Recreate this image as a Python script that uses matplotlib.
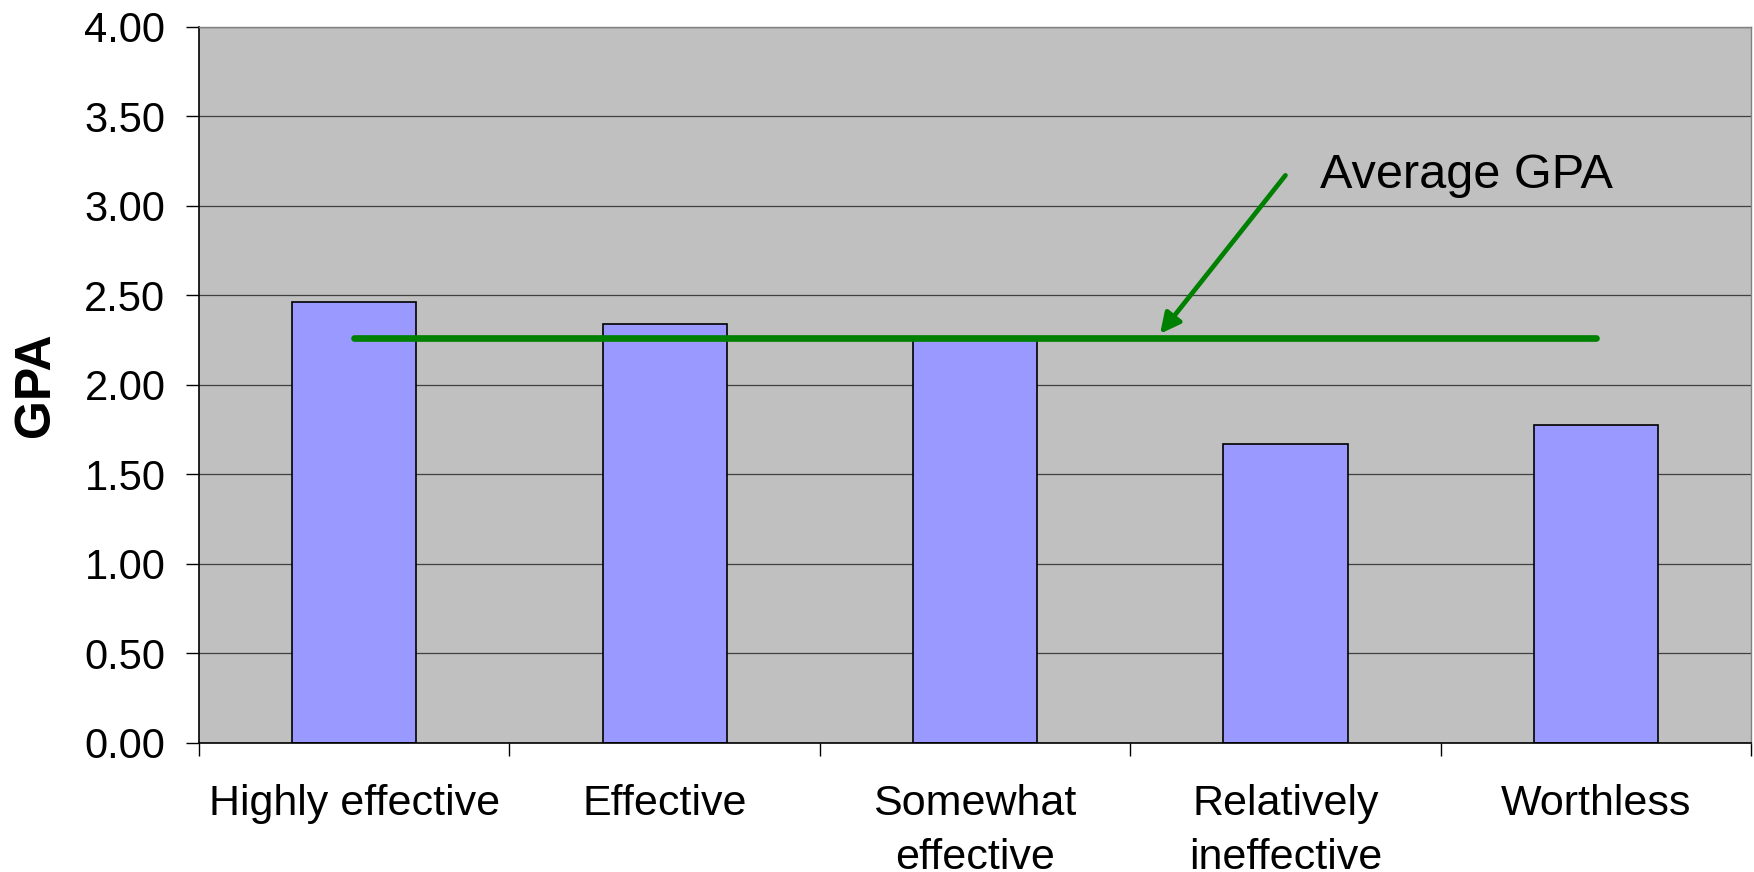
import matplotlib
matplotlib.use("Agg")
import matplotlib.pyplot as plt
import numpy as np

# Mean GPA by how effective students rated the course
categories = ["Highly effective", "Effective", "Somewhat\neffective",
              "Relatively\nineffective", "Worthless"]
gpa = [2.46, 2.34, 2.25, 1.67, 1.775]
average_gpa = 2.26
y_ticks = [0.0, 0.5, 1.0, 1.5, 2.0, 2.5, 3.0, 3.5, 4.0]

plt.rcParams["font.family"] = ["Liberation Sans", "DejaVu Sans"]

fig = plt.figure(figsize=(17.54, 8.72), dpi=100)
ax = fig.add_axes([0.1135, 0.1482, 0.8848, 0.8211])
ax.set_facecolor("#C0C0C0")

x = np.arange(len(categories))
ax.bar(x, gpa, width=0.4, color="#9999FF", edgecolor="black",
       linewidth=1.2, zorder=2)

# Average line spanning first to last category
ax.plot([x[0], x[-1]], [average_gpa, average_gpa], color="#008000",
        linewidth=4.8, solid_capstyle="round", zorder=3)

ax.annotate("", xy=(2.596, average_gpa + 0.025), xytext=(3.0, 3.17),
            arrowprops=dict(arrowstyle="-|>", color="#008000", lw=3.4,
                            mutation_scale=30, shrinkA=0, shrinkB=0),
            zorder=4)
ax.text(3.11, 3.17, "Average GPA", fontsize=35, ha="left", va="center",
        color="black", zorder=4)

ax.set_xlim(-0.5, len(categories) - 0.5)
ax.set_ylim(0, 4.0)
ax.set_yticks(y_ticks)
ax.set_yticklabels([f"{v:.2f}" for v in y_ticks], fontsize=30)
ax.yaxis.grid(True, color="#404040", linewidth=0.9, zorder=1)
ax.set_axisbelow(True)

ax.set_xticks(x)
ax.set_xticklabels(categories, fontsize=31, linespacing=1.45)
ax.set_xticks(np.arange(-0.5, len(categories)), minor=True)
ax.tick_params(axis="x", which="major", length=0, pad=30)
ax.tick_params(axis="x", which="minor", length=9.7, width=1.0,
               color="black", direction="out")
ax.tick_params(axis="y", which="major", length=9.7, width=1.0,
               color="black", direction="out", pad=14.5)

ax.set_ylabel("GPA", fontsize=36, fontweight="bold")
ax.yaxis.set_label_coords(-0.1048, 0.5)
ax.yaxis.label.set_verticalalignment("center")

for side in ("left", "bottom"):
    ax.spines[side].set_color("black")
    ax.spines[side].set_linewidth(1.2)
for side in ("top", "right"):
    ax.spines[side].set_color("#808080")
    ax.spines[side].set_linewidth(1.0)

fig.savefig("out.png", dpi=100, facecolor="white")
